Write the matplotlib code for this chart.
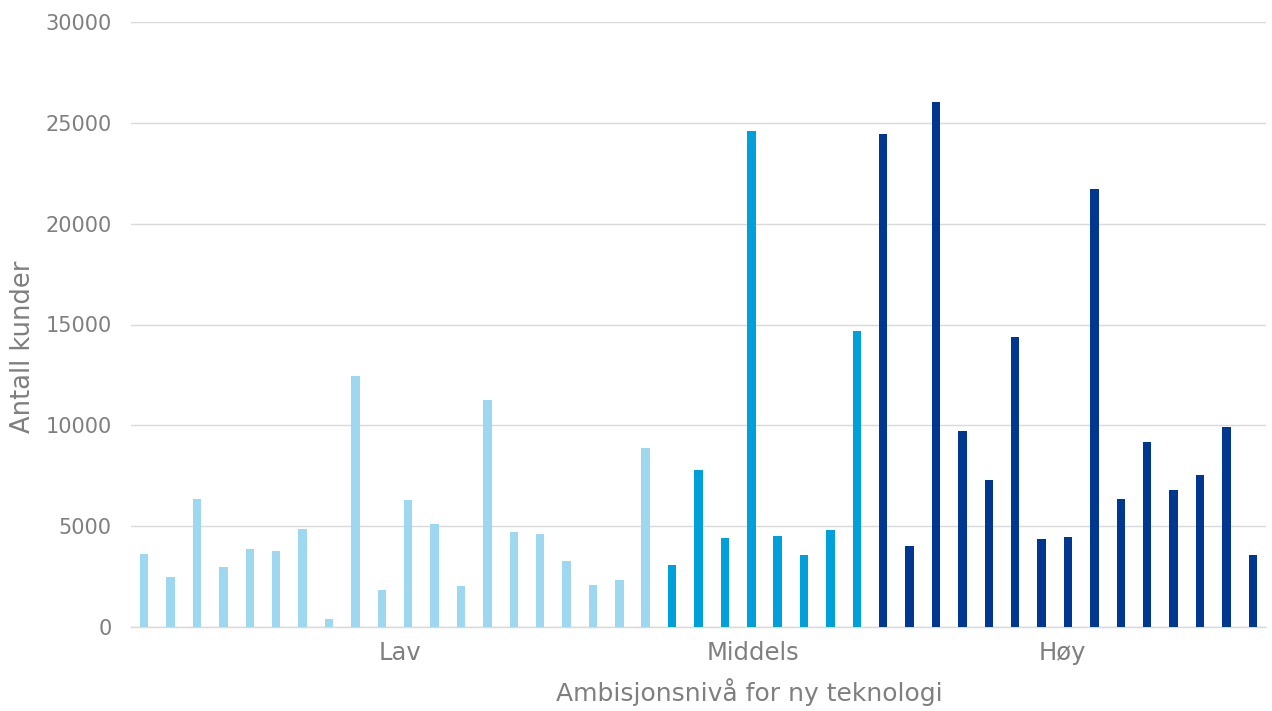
import matplotlib
matplotlib.use("Agg")
import matplotlib.pyplot as plt
import numpy as np

# Antall kunder per selskap, gruppert etter ambisjonsnivå
lav = [3640, 2460, 6350, 2990, 3890, 3760, 4860, 420, 12430, 1830,
       6290, 5110, 2010, 11250, 4730, 4610, 3260, 2100, 2350, 8870]
middels = [3090, 7790, 4390, 24600, 4520, 3560, 4830, 14680]
hoy = [24430, 4010, 26040, 9730, 7270, 14370, 4340, 4460, 21740,
       6330, 9150, 6780, 7540, 9930, 3550]

groups = ["Lav", "Middels", "Høy"]
colors = ["#9dd8f0", "#00a0da", "#003891"]
yticks = [0, 5000, 10000, 15000, 20000, 25000, 30000]

text_color = "#7f7f7f"
grid_color = "#d9d9d9"

fig = plt.figure(figsize=(12.72, 7.11), dpi=100)
ax = fig.add_axes([131 / 1272, 1 - 627 / 711, (1266 - 131) / 1272, (627 - 22) / 711])

start = 0
centers = []
for vals, col in zip([lav, middels, hoy], colors):
    x = np.arange(start, start + len(vals))
    ax.bar(x, vals, width=0.32, color=col, zorder=3)
    centers.append(start + (len(vals) - 1) / 2)
    start += len(vals)

ax.set_xlim(-0.5, start - 0.5)
ax.set_ylim(0, 30000)
ax.set_yticks(yticks)
ax.set_yticklabels([str(v) for v in yticks])
ax.yaxis.grid(True, color=grid_color, linewidth=1.0, zorder=0)
ax.set_axisbelow(True)

for side in ["top", "right", "left"]:
    ax.spines[side].set_visible(False)
ax.spines["bottom"].set_color(grid_color)
ax.spines["bottom"].set_linewidth(1.0)

ax.tick_params(axis="y", length=0, pad=14, labelsize=15, labelcolor=text_color)
ax.tick_params(axis="x", length=0, pad=10, labelsize=17.5, labelcolor=text_color)

# Kategorinavn plassert under hver gruppe
ax.set_xticks([centers[0] + 0.2, centers[1] - 0.45, centers[2] - 0.2])
ax.set_xticklabels(groups)

ax.set_xlabel("Ambisjonsnivå for ny teknologi", fontsize=18, color=text_color)
ax.xaxis.set_label_coords(0.545, -0.085)
ax.set_ylabel("Antall kunder", fontsize=18.5, color=text_color)
ax.yaxis.set_label_coords(-0.0837, 0.463)

fig.savefig("out.png", dpi=100)
